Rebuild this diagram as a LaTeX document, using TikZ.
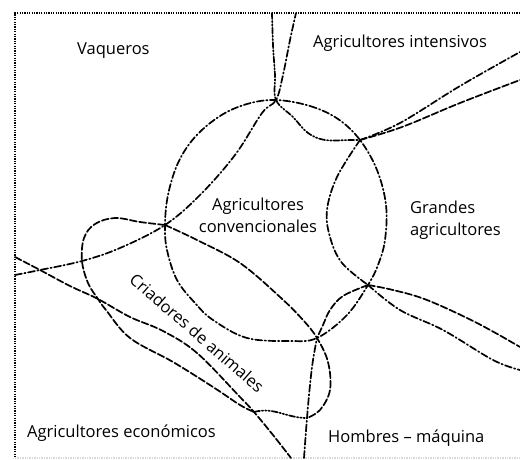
\documentclass[tikz,border=0pt]{standalone}
\usepackage{fontspec}
\setmainfont{Open Sans}
\begin{document}
\begin{tikzpicture}[x=1pt,y=-1pt,
  bnd/.style={line width=1.7pt, line cap=round},
  dsh/.style={bnd, dash pattern=on 7pt off 2.5pt},
  ddot/.style={bnd, dash pattern=on 7pt off 2.5pt on 1.3pt off 2.5pt},
  dddot/.style={bnd, dash pattern=on 6pt off 2pt on 1.3pt off 2pt on 1.3pt off 2pt},
  dotl/.style={bnd, dash pattern=on 6pt off 2pt on 1.3pt off 2pt on 1.3pt off 2pt on 1.3pt off 2pt},
  framel/.style={line width=2pt, dash pattern=on 1.3pt off 1.1pt},
  lbl/.style={font=\fontsize{16.5}{22}\selectfont, inner sep=0pt},
  sm/.style={smooth, tension=0.6}]
\useasboundingbox (0,0) rectangle (520,460);
% frame
\coordinate (F1) at (15,13);
\coordinate (F2) at (520,13);
\coordinate (F3) at (15,458);
\coordinate (F4) at (520,458);
\draw[framel] (F2) -- (F1) -- (F3);
\draw[framel, line width=1.4pt, black!15] (F3) -- (F4);
% crossing points
\coordinate (P1) at (276,100);
\coordinate (P2) at (360,140);
\coordinate (P3) at (165,225);
\coordinate (P4) at (368,285);
\coordinate (P5) at (317,338);
\coordinate (P6) at (307,418);
\coordinate (P8) at (254,412);
\coordinate (Q1) at (82,261);
\coordinate (Q2) at (40,270);
\coordinate (M)  at (98,299);
\coordinate (L1) at (15,257);
\coordinate (L2) at (15,275);
\coordinate (T1) at (272,13);
\coordinate (T2) at (296,13);
\coordinate (R1) at (520,52);
\coordinate (R2) at (520,80);
\coordinate (R3) at (520,347);
\coordinate (R4) at (520,370);
\coordinate (B1) at (304,458);
\coordinate (B2) at (291,458);
% big circle (Agricultores convencionales)
\draw[ddot] plot[smooth cycle, tension=0.6] coordinates {(P1) (310,106) (338,119) (P2) (377,170) (386,205) (385,240) (378,265) (P4) (347,315) (P5) (290,341) (247,338) (213,320) (195,303) (177,280) (167,250) (P3) (168,195) (178,163) (195,137) (220,116) (247,104)};
% Vaqueros boundary
\draw[ddot] plot[sm] coordinates {(L2) (Q2) (Q1) (120,248) (P3) (200,195) (235,155) (262,113) (P1) (283,75) (290,40) (T2)};
% Agricultores intensivos boundary
\draw[dddot] plot[sm] coordinates {(T1) (273,45) (275,75) (P1) (293,117) (308,133) (325,140) (350,140) (P2)};
\draw[ddot] plot[sm] coordinates {(P2) (400,123) (460,86) (R1)};
\draw[dsh] plot[sm] coordinates {(P2) (402,127) (460,103) (R2)};
% Grandes agricultores inner arc
\draw[ddot] plot[sm] coordinates {(P2) (337,177) (327,210) (330,237) (342,263) (P4)};
\draw[dsh] plot[sm] coordinates {(P4) (393,290) (427,300) (477,323) (R3)};
\draw[ddot] plot[sm] coordinates {(P4) (400,310) (443,330) (493,360) (R4)};
\draw[dsh] plot[sm] coordinates {(P4) (343,296) (330,310) (323,325) (P5)};
% Hombres - maquina vertical
\draw[ddot] plot[sm] coordinates {(B1) (P6) (310,385) (313,360) (P5)};
% Criadores de animales
\draw[dsh] plot[sm] coordinates {(P3) (197,240) (240,263) (280,297) (303,320) (P5) (328,362) (330,390) (320,410) (P6)};
\draw[dsh] plot[sm] coordinates {(P3) (140,222) (115,218) (95,224) (84,238) (Q1) (88,283) (M) (106,310) (130,338) (173,362) (213,387) (240,405) (P8)};
\draw[dotl] (P8) to[out=15,in=180] (P6);
% Agricultores economicos boundary
\draw[dsh] plot[sm] coordinates {(L1) (Q2) (70,286) (M) (130,317) (163,331) (197,353) (240,397) (P8) (273,435) (B2)};
% labels
\node[lbl, anchor=base west] (vaq) at (77,55) {Vaqueros};
\node[lbl, anchor=base west] (int) at (313,48) {Agricultores intensivos};
\node[lbl, anchor=base] (conv1) at (258,210) {Agricultores};
\node[lbl, anchor=base] (conv2) at (258,232) {convencionales};
\node[lbl, anchor=base west] (gr1) at (410,213) {Grandes};
\node[lbl, anchor=base west] (gr2) at (410,235) {agricultores};
\node[lbl, rotate=-41] (cria) at (197,333) {Criadores de animales};
\node[lbl, anchor=base west] (eco) at (27,437) {Agricultores económicos};
\node[lbl, anchor=base west] (hom) at (328,442) {Hombres – máquina};
\end{tikzpicture}
\end{document}
